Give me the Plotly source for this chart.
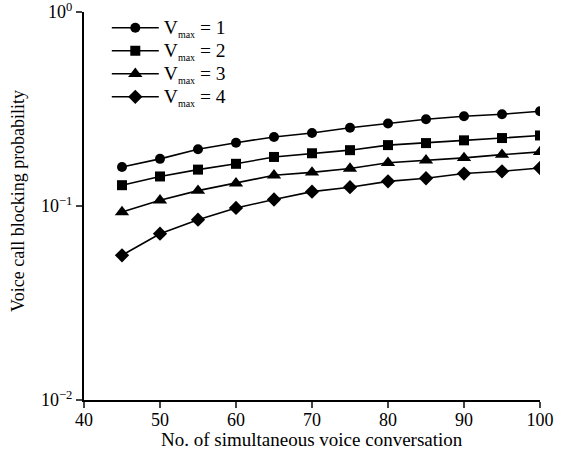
import plotly.graph_objects as go

conversations = [45, 50, 55, 60, 65, 70, 75, 80, 85, 90, 95, 100]
vmax_values = [1, 2, 3, 4]
vmax1 = [0.159, 0.175, 0.196, 0.212, 0.227, 0.238, 0.253, 0.266, 0.280, 0.290, 0.297, 0.308]
vmax2 = [0.128, 0.142, 0.154, 0.165, 0.179, 0.187, 0.194, 0.206, 0.211, 0.218, 0.224, 0.231]
vmax3 = [0.0931, 0.107, 0.120, 0.131, 0.144, 0.149, 0.156, 0.167, 0.172, 0.177, 0.184, 0.190]
vmax4 = [0.0557, 0.0720, 0.0850, 0.0977, 0.108, 0.1186, 0.125, 0.134, 0.139, 0.147, 0.151, 0.157]
series = [vmax1, vmax2, vmax3, vmax4]
symbols = ["circle", "square", "triangle-up", "diamond"]
sizes = [10, 10, 12.5, 11]

x_ticks = [40, 50, 60, 70, 80, 90, 100]
y_ticks = [0.01, 0.1, 1]
y_tick_text = ["10<sup>\u22122</sup>", "10<sup>\u22121</sup>", "10<sup>0</sup>"]
x_title = "No. of simultaneous voice conversation"
y_title = "Voice call blocking probability"

font_family = "Liberation Serif"

fig = go.Figure()
for v, vals, sym, sz in zip(vmax_values, series, symbols, sizes):
    label = ("<span style='font-size:19.5px'>V<sub><span style='font-size:10px'>max</span></sub>"
             " = %d</span>" % v)
    fig.add_trace(go.Scatter(
        x=conversations, y=vals, name=label, mode="lines+markers",
        line=dict(color="black", width=1.6),
        marker=dict(symbol=sym, size=sz, color="black"),
    ))

fig.update_layout(
    width=563, height=452,
    margin=dict(l=84, r=23, t=12, b=52, autoexpand=False),
    paper_bgcolor="white", plot_bgcolor="white",
    font=dict(family=font_family, size=18, color="black"),
    showlegend=True,
    legend=dict(x=0.05, y=1.002, xanchor="left", yanchor="top",
                bgcolor="rgba(0,0,0,0)", font=dict(size=15.4),
                tracegroupgap=0, itemwidth=47),
    annotations=[
        dict(text=x_title, x=0.5, y=0, xref="paper", yref="paper",
             xanchor="center", yanchor="middle", yshift=-39, showarrow=False,
             font=dict(size=19)),
        dict(text=y_title, x=0, y=0.5, xref="paper", yref="paper",
             xanchor="center", yanchor="middle", xshift=-66, yshift=5,
             textangle=-90, showarrow=False, font=dict(size=18)),
    ],
)
fig.update_xaxes(
    range=[40, 100], tickvals=x_ticks, ticks="outside", ticklen=6, tickwidth=2,
    showline=True, linecolor="black", linewidth=2, showgrid=False, zeroline=False,
    automargin=False, ticklabelstandoff=-4, ticklabeloverflow="allow",
    tickfont=dict(size=18),
)
fig.update_yaxes(
    type="log", range=[-2, 0], tickvals=y_ticks, ticktext=y_tick_text,
    ticks="outside", ticklen=6, tickwidth=2,
    showline=True, linecolor="black", linewidth=2, showgrid=False, zeroline=False,
    automargin=False, ticklabeloverflow="allow", tickfont=dict(size=18),
)

fig.write_html("out.html", config={"displayModeBar": False},
               post_script="document.body.style.margin='0';")
